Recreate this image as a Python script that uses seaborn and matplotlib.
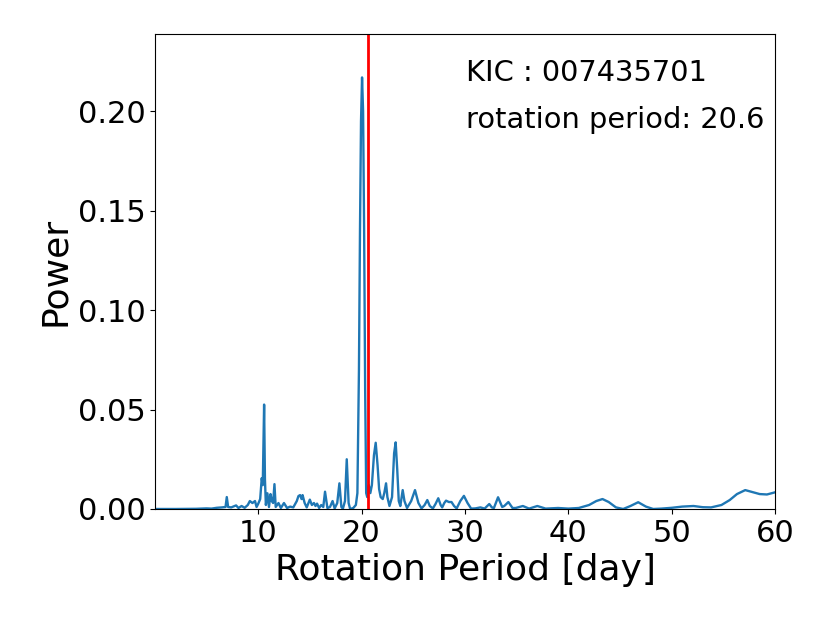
import matplotlib
matplotlib.use("Agg")
import matplotlib.pyplot as plt
import seaborn as sns
import pandas as pd
from matplotlib.ticker import FormatStrFormatter

# Periodogram
period = [0.05, 2.0, 4.0, 5.0, 5.5, 6.0, 6.5, 6.85, 6.97, 7.1, 7.4, 7.87, 8.1, 8.4, 8.7,
          9.0, 9.2, 9.45, 9.7, 9.85, 10.0, 10.2, 10.35, 10.45, 10.58, 10.66, 10.75, 10.9,
          11.05, 11.2, 11.32, 11.45, 11.58, 11.7, 11.97, 12.2, 12.5, 12.8, 13.1, 13.4,
          13.74, 13.9, 14.06, 14.2, 14.3, 14.5, 14.7, 15.0, 15.2, 15.4, 15.55, 15.7, 15.9,
          16.1, 16.3, 16.47, 16.7, 16.95, 17.2, 17.4, 17.65, 17.86, 18.05, 18.2, 18.4,
          18.57, 18.75, 18.9, 19.2, 19.45, 19.6, 19.75, 19.85, 19.95, 20.05, 20.15, 20.25,
          20.35, 20.45, 20.55, 20.7, 20.85, 21.0, 21.2, 21.37, 21.55, 21.7, 21.85, 22.05,
          22.2, 22.37, 22.5, 22.7, 22.95, 23.15, 23.3, 23.45, 23.6, 23.75, 23.98, 24.15,
          24.4, 24.8, 25.17, 25.5, 25.8, 26.1, 26.36, 26.6, 26.9, 27.15, 27.42, 27.65,
          27.8, 28.0, 28.17, 28.45, 28.7, 28.95, 29.2, 29.55, 29.9, 30.25, 30.6, 31.0,
          31.5, 31.9, 32.35, 32.6, 32.8, 33.2, 33.6, 33.8, 34.2, 34.6, 34.9, 35.6, 36.2,
          37.0, 37.8, 39.0, 40.0, 41.0, 42.0, 42.7, 43.3, 43.9, 44.6, 45.3, 46.0, 46.75,
          47.5, 48.2, 49.0, 50.0, 51.0, 52.1, 53.0, 53.8, 54.8, 55.6, 56.3, 57.1, 57.8,
          58.5, 59.2, 60.0]
power = [0.0, 0.0, 0.0001, 0.0003, 0.0002, 0.0006, 0.0008, 0.001, 0.006, 0.001, 0.0008,
         0.0018, 0.0005, 0.0015, 0.0006, 0.002, 0.004, 0.003, 0.004, 0.001, 0.0025, 0.005,
         0.0155, 0.012, 0.0525, 0.015, 0.002, 0.0079, 0.001, 0.0075, 0.004, 0.003, 0.0125,
         0.001, 0.003, 0.0005, 0.003, 0.0005, 0.0012, 0.0008, 0.004, 0.0065, 0.007, 0.005,
         0.007, 0.003, 0.0008, 0.0047, 0.002, 0.003, 0.0015, 0.0027, 0.0005, 0.002, 0.001,
         0.0087, 0.0005, 0.001, 0.004, 0.0003, 0.003, 0.0129, 0.001, 0.0002, 0.004, 0.025,
         0.003, 0.0, 0.0005, 0.002, 0.008, 0.07, 0.14, 0.195, 0.217, 0.2, 0.14, 0.06, 0.008,
         0.006, 0.012, 0.008, 0.012, 0.027, 0.0333, 0.022, 0.01, 0.006, 0.005, 0.008,
         0.0129, 0.006, 0.0015, 0.006, 0.028, 0.0335, 0.02, 0.004, 0.0015, 0.0095, 0.004,
         0.0005, 0.004, 0.0095, 0.003, 0.0003, 0.002, 0.0045, 0.0015, 0.0003, 0.0025,
         0.0054, 0.002, 0.0008, 0.003, 0.0042, 0.0035, 0.0035, 0.0015, 0.0003, 0.004,
         0.0066, 0.003, 0.0002, 0.0003, 0.0008, 0.0002, 0.0025, 0.0008, 0.0005, 0.0059,
         0.001, 0.0015, 0.0035, 0.0005, 0.0005, 0.0015, 0.0002, 0.0015, 0.0002, 0.0005,
         0.0002, 0.0005, 0.002, 0.004, 0.005, 0.0035, 0.0008, 0.0, 0.0015, 0.0034, 0.0012,
         0.0, 0.0002, 0.0006, 0.0012, 0.0015, 0.0009, 0.0008, 0.002, 0.0045, 0.0075,
         0.0095, 0.0085, 0.0075, 0.0073, 0.0084]

rotation_period = 20.6
kic_id = "007435701"
x_ticks = [10, 20, 30, 40, 50, 60]
y_ticks = [0.00, 0.05, 0.10, 0.15, 0.20]

df = pd.DataFrame({"period": period, "power": power})

fig = plt.figure(figsize=(8.3, 6.23), dpi=100)
ax = fig.add_axes([0.187, 0.183, 0.747, 0.762])

sns.lineplot(data=df, x="period", y="power", ax=ax, color="#1f77b4",
             linewidth=1.7, sort=False, estimator=None)
ax.axvline(rotation_period, color="red", linewidth=2)

ax.set_xlim(0.05, 60)
ax.set_ylim(0, max(power) * 1.1)
ax.set_xticks(x_ticks)
ax.set_yticks(y_ticks)
ax.yaxis.set_major_formatter(FormatStrFormatter("%.2f"))
ax.tick_params(labelsize=22)
ax.set_xlabel("Rotation Period [day]", fontsize=26)
ax.set_ylabel("Power", fontsize=26)

ax.text(30.1, 0.219, "KIC : " + kic_id, fontsize=20.8, ha="left", va="center")
ax.text(30.1, 0.1955, "rotation period: " + str(rotation_period), fontsize=20.8,
        ha="left", va="center")

fig.savefig("out.png", dpi=100)
